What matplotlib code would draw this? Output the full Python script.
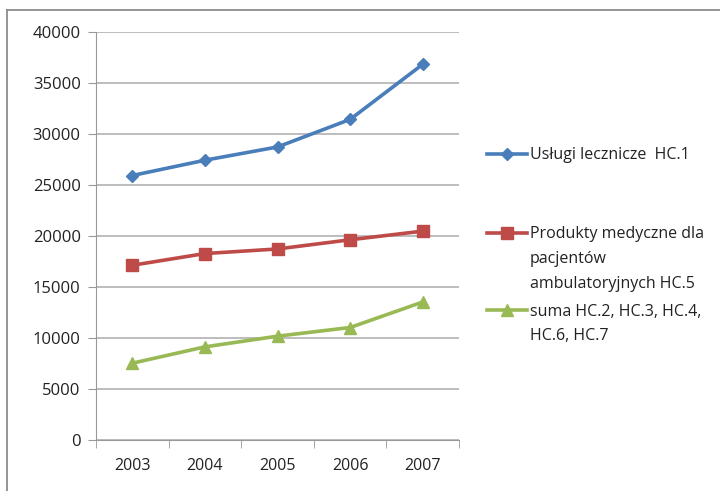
import matplotlib
matplotlib.use("Agg")
import matplotlib.pyplot as plt
from matplotlib.lines import Line2D

years = ["2003", "2004", "2005", "2006", "2007"]
uslugi = [25900, 27400, 28700, 31400, 36800]
produkty = [17100, 18250, 18700, 19600, 20450]
suma = [7500, 9100, 10150, 11000, 13500]
labels = ["Usługi lecznicze  HC.1",
          "Produkty medyczne dla\npacjentów\nambulatoryjnych HC.5",
          "suma HC.2, HC.3, HC.4,\nHC.6, HC.7"]
yticks = [0, 5000, 10000, 15000, 20000, 25000, 30000, 35000, 40000]

colors = ["#4A7EBB", "#BE4B48", "#98B954"]
markers = ["D", "s", "^"]
msizes = [6.5, 8.5, 8.5]

plt.rcParams['font.family'] = ['Open Sans', 'DejaVu Sans']

fig = plt.figure(figsize=(7.2, 4.91), dpi=100)
W, H = 720, 491
ax = fig.add_axes([96 / W, 1 - 439.7 / H, (459 - 96) / W, (439.7 - 31.7) / H])

x = list(range(len(years)))
for vals, c, m, ms in zip([uslugi, produkty, suma], colors, markers, msizes):
    ax.plot(x, vals, color=c, lw=2.6, marker=m, markersize=ms,
            markerfacecolor=c, markeredgecolor=c, zorder=3)

ax.set_xlim(-0.5, len(years) - 0.5)
ax.set_ylim(0, 40000)
ax.set_yticks(yticks)
ax.set_yticklabels([str(v) for v in yticks], fontsize=12, color="#222222")
ax.set_xticks(x)
ax.set_xticklabels(years, fontsize=11.5, color="#222222")
ax.set_xticks([i - 0.5 for i in range(len(years) + 1)], minor=True)
ax.tick_params(axis='x', which='major', length=0, pad=13)
ax.tick_params(axis='x', which='minor', length=6, color="#999999", direction='out')
ax.tick_params(axis='y', length=6, color="#999999", direction='out', pad=5)
ax.yaxis.grid(True, color="#ababab", lw=1.1)
ax.set_axisbelow(True)
for s in ['top', 'right']:
    ax.spines[s].set_visible(False)
ax.spines['left'].set_color("#999999")
ax.spines['bottom'].set_color("#999999")

# outer frame (left and top edges visible)
fig.add_artist(Line2D([7 / W, 7 / W], [0, 1 - 10 / H], color="#8c8c8c", lw=1.3,
                      transform=fig.transFigure))
fig.add_artist(Line2D([7 / W, 1], [1 - 10 / H, 1 - 10 / H], color="#8c8c8c", lw=1.3,
                      transform=fig.transFigure))

# legend
leg_y = [153.5, 233, 310]
for lab, c, m, ms, yy in zip(labels, colors, markers, msizes, leg_y):
    fy = 1 - yy / H
    fig.add_artist(Line2D([487 / W, 527 / W], [fy, fy], color=c, lw=2.6,
                          transform=fig.transFigure))
    fig.add_artist(Line2D([507 / W], [fy], color=c, marker=m, markersize=ms,
                          markerfacecolor=c, markeredgecolor=c,
                          transform=fig.transFigure))
    fig.text(530 / W, fy + 6.5 / H, lab, fontsize=11.5, va='top', ha='left',
             color="#222222", linespacing=1.72)

fig.savefig("out.png", dpi=100)
